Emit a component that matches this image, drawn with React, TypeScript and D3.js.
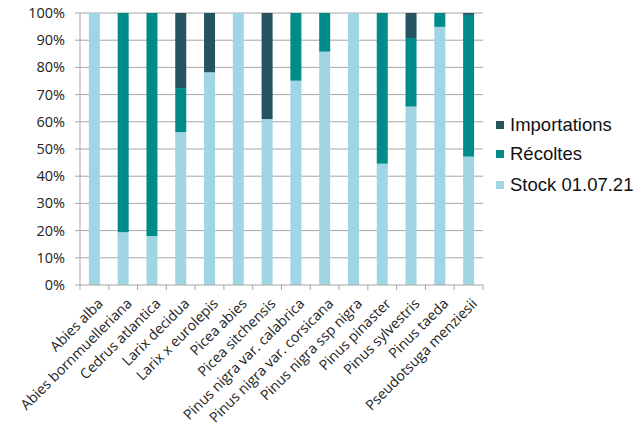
import React from "react";
import * as d3 from "d3";

const categories = [
  "Abies alba",
  "Abies bornmuelleriana",
  "Cedrus atlantica",
  "Larix decidua",
  "Larix x eurolepis",
  "Picea abies",
  "Picea sitchensis",
  "Pinus nigra var. calabrica",
  "Pinus nigra var. corsicana",
  "Pinus nigra ssp nigra",
  "Pinus pinaster",
  "Pinus sylvestris",
  "Pinus taeda",
  "Pseudotsuga menziesii",
];
const stock = [100, 19.4, 18, 56.2, 78.2, 100, 61, 75.1, 85.8, 100, 44.6, 65.6, 94.9, 47.2];
const recoltes = [0, 80.6, 82, 16.2, 0, 0, 0, 24.9, 14.2, 0, 55.4, 25.2, 5.1, 52.1];
const importations = [0, 0, 0, 27.6, 21.8, 0, 39, 0, 0, 0, 0, 9.2, 0, 0.7];
const seriesNames = ["Stock 01.07.21", "Récoltes", "Importations"];
const colors = ["#A0D6E3", "#008B8B", "#25535F"];
const yTicks = [0, 10, 20, 30, 40, 50, 60, 70, 80, 90, 100];

export default function App() {
  const W = 641, H = 432;
  const x0 = 80, x1 = 483, yTop = 13, yBot = 285;
  const x = d3.scaleBand<string>().domain(categories).range([x0, x1]);
  const y = d3.scaleLinear().domain([0, 100]).range([yBot, yTop]);
  const rows = categories.map((c, i) => ({ c, s0: stock[i], s1: recoltes[i], s2: importations[i] }));
  const stacked = d3.stack<any>().keys(["s0", "s1", "s2"])(rows);
  const barW = 11;
  const ticksX = d3.range(categories.length + 1).map((i) => x0 + i * x.step());
  const legendY = [185, 154, 125];
  return (
    <svg width={W} height={H} style={{ position: "absolute", left: 0, top: 0 }}>
      <rect width={W} height={H} fill="#fff" />
      {yTicks.map((t) => (
        <g key={t}>
          {t > 0 && <line x1={x0} x2={x1} y1={y(t)} y2={y(t)} stroke="#A6A6A6" strokeWidth={1} />}
          <line x1={x0 - 5} x2={x0} y1={y(t)} y2={y(t)} stroke="#A6A6A6" />
          <text x={65} y={y(t)} dy="0.35em" textAnchor="end" fontFamily="Open Sans" fontSize={14.5} fill="#222">
            {t}%
          </text>
        </g>
      ))}
      {stacked.map((layer, k) =>
        layer.map((d, i) =>
          d[1] - d[0] > 0 ? (
            <rect
              key={k + "-" + i}
              x={(x(categories[i]) as number) + x.bandwidth() / 2 - barW / 2}
              y={y(d[1])}
              width={barW}
              height={y(d[0]) - y(d[1])}
              fill={colors[k]}
            />
          ) : null
        )
      )}
      <line x1={x0} x2={x0} y1={yTop} y2={yBot} stroke="#A6A6A6" />
      <line x1={x0} x2={x1} y1={yBot} y2={yBot} stroke="#A6A6A6" />
      {ticksX.map((tx, i) => (
        <line key={i} x1={tx} x2={tx} y1={yBot} y2={yBot + 5} stroke="#A6A6A6" />
      ))}
      {categories.map((c) => {
        const cx = (x(c) as number) + x.bandwidth() / 2 + 6;
        return (
          <text
            key={c}
            transform={`translate(${cx},${yBot + 16}) rotate(-45)`}
            textAnchor="end"
            dy="0.35em"
            fontFamily="Open Sans"
            fontSize={14.2}
            fill="#222"
          >
            {c}
          </text>
        );
      })}
      {seriesNames.map((n, k) => (
        <g key={n}>
          <rect x={496} y={legendY[k] - 4} width={8} height={8} fill={colors[k]} />
          <text x={510} y={legendY[k]} dy="0.35em" fontFamily="Liberation Sans" fontSize={18.5} fill="#111">
            {n}
          </text>
        </g>
      ))}
    </svg>
  );
}
